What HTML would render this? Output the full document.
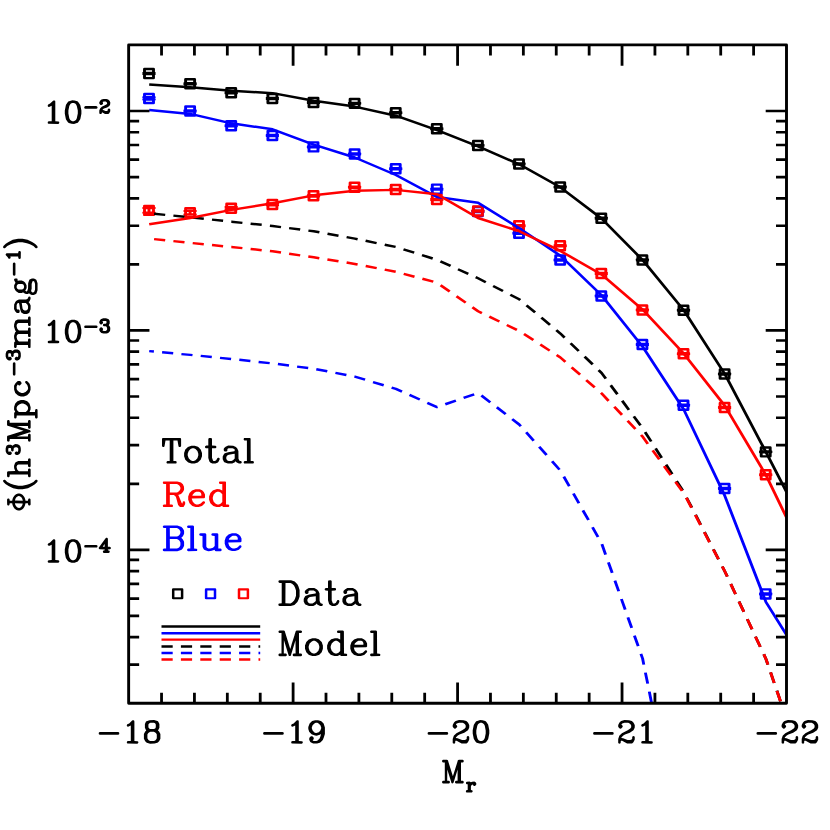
<!DOCTYPE html>
<html><head><meta charset="utf-8"><title>Luminosity function</title>
<style>html,body{margin:0;padding:0;background:#fff}body{width:830px;height:830px;overflow:hidden;font-family:"Liberation Serif",serif}svg{display:block}</style>
</head><body>
<svg width="830" height="830" viewBox="0 0 830 830">
<rect width="830" height="830" fill="#fff"/>
<defs><clipPath id="c"><rect x="128.65" y="44.95" width="657.85" height="658.30"/></clipPath></defs>
<g clip-path="url(#c)"><g transform="scale(1 0.85)" fill="none" stroke-linejoin="round">
<path d="M144.5 81.3L153.5 81.3L153.5 91.9L144.5 91.9ZM143.7 86L154.3 86M143.7 87.2L154.3 87.2M149 86L149 87.2M185.6 93.3L194.6 93.3L194.6 103.9L185.6 103.9ZM184.8 98L195.4 98M184.8 99.2L195.4 99.2M190.1 98L190.1 99.2M226.7 103.9L235.7 103.9L235.7 114.5L226.7 114.5ZM225.9 108.6L236.5 108.6M225.9 109.8L236.5 109.8M231.2 108.6L231.2 109.8M267.9 110.7L276.9 110.7L276.9 121.3L267.9 121.3ZM267.1 115.4L277.7 115.4M267.1 116.6L277.7 116.6M272.4 115.4L272.4 116.6M309 115.3L318 115.3L318 125.9L309 125.9ZM308.2 120L318.8 120M308.2 121.2L318.8 121.2M313.5 120L313.5 121.2M350.1 116.4L359.1 116.4L359.1 126.9L350.1 126.9ZM349.3 121.1L359.9 121.1M349.3 122.2L359.9 122.2M354.6 121.1L354.6 122.2M391.2 127.4L400.2 127.4L400.2 138L391.2 138ZM390.4 132.1L401 132.1M390.4 133.3L401 133.3M395.7 132.1L395.7 133.3M432.3 146.1L441.3 146.1L441.3 156.7L432.3 156.7ZM431.5 150.8L442.1 150.8M431.5 152L442.1 152M436.8 150.8L436.8 152M473.4 165.8L482.4 165.8L482.4 176.4L473.4 176.4ZM472.6 170.5L483.2 170.5M472.6 171.6L483.2 171.6M477.9 170.5L477.9 171.6M514.5 187.6L523.5 187.6L523.5 198.2L514.5 198.2ZM513.7 192.4L524.3 192.4M513.7 193.5L524.3 193.5M519 192.4L519 193.5M555.7 214.7L564.7 214.7L564.7 225.3L555.7 225.3ZM554.9 219.4L565.5 219.4M554.9 220.6L565.5 220.6M560.2 219.4L560.2 220.6M596.8 251.5L605.8 251.5L605.8 262.1L596.8 262.1ZM596 256.2L606.6 256.2M596 257.4L606.6 257.4M601.3 256.2L601.3 257.4M637.9 300.7L646.9 300.7L646.9 311.3L637.9 311.3ZM637.1 305.4L647.7 305.4M637.1 306.6L647.7 306.6M642.4 305.4L642.4 306.6M679 359.6L688 359.6L688 370.2L679 370.2ZM678.2 364.4L688.8 364.4M678.2 365.5L688.8 365.5M683.5 364.4L683.5 365.5M720.1 434.8L729.1 434.8L729.1 445.4L720.1 445.4ZM719.3 439.5L729.9 439.5M719.3 440.7L729.9 440.7M724.6 439.5L724.6 440.7M761.2 526.4L770.2 526.4L770.2 536.9L761.2 536.9ZM760.4 531.1L771 531.1M760.4 532.2L771 532.2M765.7 531.1L765.7 532.2" stroke="#000" stroke-width="2.9" stroke-linecap="round"/>
<path d="M144.5 110.5L153.5 110.5L153.5 121.1L144.5 121.1ZM143.7 114.5L154.3 114.5M143.7 117.1L154.3 117.1M149 114.5L149 117.1M185.6 125.3L194.6 125.3L194.6 135.9L185.6 135.9ZM184.8 129.9L195.4 129.9M184.8 131.3L195.4 131.3M190.1 129.9L190.1 131.3M226.7 142.6L235.7 142.6L235.7 153.2L226.7 153.2ZM225.9 147.3L236.5 147.3M225.9 148.5L236.5 148.5M231.2 147.3L231.2 148.5M267.9 154.1L276.9 154.1L276.9 164.7L267.9 164.7ZM267.1 158.8L277.7 158.8M267.1 160L277.7 160M272.4 158.8L272.4 160M309 167.5L318 167.5L318 178.1L309 178.1ZM308.2 172.2L318.8 172.2M308.2 173.4L318.8 173.4M313.5 172.2L313.5 173.4M350.1 175.9L359.1 175.9L359.1 186.5L350.1 186.5ZM349.3 180.6L359.9 180.6M349.3 181.8L359.9 181.8M354.6 180.6L354.6 181.8M391.2 193.2L400.2 193.2L400.2 203.8L391.2 203.8ZM390.4 197.9L401 197.9M390.4 199.1L401 199.1M395.7 197.9L395.7 199.1M432.3 217.2L441.3 217.2L441.3 227.8L432.3 227.8ZM431.5 221.9L442.1 221.9M431.5 223.1L442.1 223.1M436.8 221.9L436.8 223.1M473.4 243.5L482.4 243.5L482.4 254.1L473.4 254.1ZM472.6 248.2L483.2 248.2M472.6 249.4L483.2 249.4M477.9 248.2L477.9 249.4M514.5 269.2L523.5 269.2L523.5 279.8L514.5 279.8ZM513.7 273.9L524.3 273.9M513.7 275.1L524.3 275.1M519 273.9L519 275.1M555.7 300.5L564.7 300.5L564.7 311.1L555.7 311.1ZM554.9 305.2L565.5 305.2M554.9 306.4L565.5 306.4M560.2 305.2L560.2 306.4M596.8 342.9L605.8 342.9L605.8 353.5L596.8 353.5ZM596 347.6L606.6 347.6M596 348.8L606.6 348.8M601.3 347.6L601.3 348.8M637.9 400L646.9 400L646.9 410.6L637.9 410.6ZM637.1 404.7L647.7 404.7M637.1 405.9L647.7 405.9M642.4 404.7L642.4 405.9M679 471.4L688 471.4L688 482L679 482ZM678.2 476.1L688.8 476.1M678.2 477.3L688.8 477.3M683.5 476.1L683.5 477.3M720.1 569.5L729.1 569.5L729.1 580.1L720.1 580.1ZM719.3 574.2L729.9 574.2M719.3 575.4L729.9 575.4M724.6 574.2L724.6 575.4M761.2 693.4L770.2 693.4L770.2 704L761.2 704ZM760.4 698.1L771 698.1M760.4 699.3L771 699.3M765.7 698.1L765.7 699.3" stroke="#00f" stroke-width="2.9" stroke-linecap="round"/>
<path d="M144.5 242.2L153.5 242.2L153.5 252.8L144.5 252.8ZM143.7 244.8L154.3 244.8M143.7 250.2L154.3 250.2M149 244.8L149 250.2M185.6 244.9L194.6 244.9L194.6 255.5L185.6 255.5ZM184.8 248.1L195.4 248.1M184.8 252.4L195.4 252.4M190.1 248.1L190.1 252.4M226.7 239.6L235.7 239.6L235.7 250.2L226.7 250.2ZM225.9 243.6L236.5 243.6M225.9 246.2L236.5 246.2M231.2 243.6L231.2 246.2M267.9 235.2L276.9 235.2L276.9 245.8L267.9 245.8ZM267.1 239.5L277.7 239.5M267.1 241.4L277.7 241.4M272.4 239.5L272.4 241.4M309 225.1L318 225.1L318 235.6L309 235.6ZM308.2 229.6L318.8 229.6M308.2 231.1L318.8 231.1M313.5 229.6L313.5 231.1M350.1 214.9L359.1 214.9L359.1 225.5L350.1 225.5ZM349.3 219.6L359.9 219.6M349.3 220.8L359.9 220.8M354.6 219.6L354.6 220.8M391.2 217.6L400.2 217.6L400.2 228.2L391.2 228.2ZM390.4 222.4L401 222.4M390.4 223.5L401 223.5M395.7 222.4L395.7 223.5M432.3 229.3L441.3 229.3L441.3 239.9L432.3 239.9ZM431.5 234L442.1 234M431.5 235.2L442.1 235.2M436.8 234L436.8 235.2M473.4 242.9L482.4 242.9L482.4 253.5L473.4 253.5ZM472.6 247.6L483.2 247.6M472.6 248.8L483.2 248.8M477.9 247.6L477.9 248.8M514.5 260.4L523.5 260.4L523.5 270.9L514.5 270.9ZM513.7 265.1L524.3 265.1M513.7 266.2L524.3 266.2M519 265.1L519 266.2M555.7 283.9L564.7 283.9L564.7 294.5L555.7 294.5ZM554.9 288.6L565.5 288.6M554.9 289.8L565.5 289.8M560.2 288.6L560.2 289.8M596.8 316.5L605.8 316.5L605.8 327.1L596.8 327.1ZM596 321.2L606.6 321.2M596 322.4L606.6 322.4M601.3 321.2L601.3 322.4M637.9 359.4L646.9 359.4L646.9 370L637.9 370ZM637.1 364.1L647.7 364.1M637.1 365.3L647.7 365.3M642.4 364.1L642.4 365.3M679 410.9L688 410.9L688 421.5L679 421.5ZM678.2 415.6L688.8 415.6M678.2 416.8L688.8 416.8M683.5 415.6L683.5 416.8M720.1 474.1L729.1 474.1L729.1 484.7L720.1 484.7ZM719.3 478.8L729.9 478.8M719.3 480L729.9 480M724.6 478.8L724.6 480M761.2 553.2L770.2 553.2L770.2 563.8L761.2 563.8ZM760.4 557.9L771 557.9M760.4 559.1L771 559.1M765.7 557.9L765.7 559.1" stroke="#f00" stroke-width="2.9" stroke-linecap="round"/>
<path d="M149.2 99.4L190.3 102.6L231.4 106.8L272.6 109.6L313.7 118.5L354.8 125.4L395.9 136.1L437 153.1L478.1 172.2L519.2 193.3L560.4 220.4L601.5 257.1L642.6 305.9L683.7 364.9L724.8 440L765.9 531.8L807.1 625.6" stroke="#000" stroke-width="2.9"/>
<path d="M154.1 251.5L165.2 252.8M173.4 253.7L184.5 255M192.7 255.9L203.8 257.3M212 258.4L223.1 259.8M231.3 260.8L231.4 260.8L242.4 262.2M250.6 263.2L261.7 264.5M269.9 265.6L272.6 265.9L281 267.2M289.1 268.4L300.2 270.1M308.4 271.3L313.7 272.1L319.4 273.3M327.5 275L338.5 277.3M346.6 279L354.8 280.7L357.6 281.4M365.6 283.3L376.6 286M384.7 287.9L395.6 290.5M403.5 293.4L414.2 297.3M422 300.1L432.7 304.1M440.4 307.4L450.6 312.8M458 316.8L468.3 322.2M475.7 326.1L478.1 327.4L485.8 332M493.1 336.4L503 342.4M510.3 346.8L519.2 352.1L520.2 353M526.5 359.2L535.1 367.6M541.4 373.8L550 382.2M556.3 388.4L560.4 392.4L564.6 397.2M570.6 403.8L578.7 412.9M584.6 419.6L592.7 428.7M598.6 435.4L601.5 438.6L605.8 445.4M610.7 453.2L617.4 463.8M622.2 471.5L628.9 482.1M633.8 489.8L640.5 500.4M645.1 508.4L651.2 519.4M655.6 527.6L661.7 538.6M666.1 546.7L672.2 557.8M676.6 565.9L682.7 577M686.6 585.5L691.8 597.2M695.6 605.7L700.7 617.4M704.5 626L709.6 637.7M713.4 646.3L718.5 658M722.3 666.5L724.8 672.2L727.3 678.3M730.8 687.1L735.5 699M739 707.7L743.8 719.7M747.3 728.4L752 740.3M755.5 749L760.3 761M763.8 769.7L765.9 775.1L767.9 781.9M770.6 791L774.2 803.5M776.9 812.6L780.5 825.1" stroke="#000" stroke-width="2.9"/>
<path d="M149.2 129.5L190.3 134L231.4 145.1L272.6 152.1L313.7 170.2L354.8 185.3L395.9 205.9L437 231.8L478.1 238.6L519.2 268.4L560.4 300.9L601.5 347.4L642.6 407.8L683.7 481.6L724.8 583.3L765.9 708.2L807.1 785.6" stroke="#00f" stroke-width="2.9"/>
<path d="M149.2 413.1L153.9 413.6M162.1 414.5L173.2 415.7M181.4 416.6L190.3 417.5L192.5 417.8M200.7 418.7L211.8 420.1M220 421L231.1 422.3M239.3 423.3L250.4 424.7M258.6 425.8L269.7 427.2M277.9 428.3L289 430M297.1 431.3L308.2 432.9M316.3 434.4L327.3 436.8M335.4 438.7L346.4 441.2M354.4 443L354.8 443.1L365.1 446.7M373 449.5L383.7 453.2M391.6 456L395.9 457.5L402 460.7M409.5 464.6L419.8 470M427.3 473.9L437 478.9L437.5 478.7M445.3 475.6L455.9 471.3M463.6 468.2L474.2 463.9M481.4 465.3L490.3 473.3M496.8 479.1L505.7 487.2M512.2 493L519.2 499.4L520.8 501.4M526.2 508.6L533.7 518.4M539.2 525.6L546.6 535.4M552.1 542.6L559.5 552.5M563.8 560.7L569.3 572.1M573.4 580.5L578.9 592M582.9 600.4L588.5 611.8M592.5 620.2L598 631.7M601.9 640.2L605.6 652.6M608.4 661.7L612.2 674.1M614.9 683.2L618.7 695.6M621.4 704.7L625.2 717.1M627.9 726.2L631.7 738.6M634.4 747.7L638.2 760.1M640.9 769.2L642.6 774.7L643.8 781.9M645.4 791.3L647.7 804.3M649.3 813.7L651.5 826.6" stroke="#00f" stroke-width="2.9"/>
<path d="M149.2 263.8L190.3 256.4L231.4 246.9L272.6 239.2L313.7 229.8L354.8 224.4L395.9 223.4L437 228.6L478.1 256.5L519.2 272L560.4 295.2L601.5 322.9L642.6 364.2L683.7 416L724.8 477.4L765.9 558.8L807.1 658.8" stroke="#f00" stroke-width="2.9"/>
<path d="M154.1 281.3L165.2 282.7M173.4 283.7L184.5 285.1M192.7 286L203.8 287.3M212 288.3L223.1 289.6M231.3 290.6L231.4 290.6L242.4 291.9M250.6 292.9L261.7 294.3M269.9 295.3L272.6 295.6L281 297.1M289.1 298.5L300.2 300.4M308.3 301.8L313.7 302.7L319.3 303.8M327.4 305.3L338.5 307.4M346.6 308.9L354.8 310.5L357.6 311.1M365.7 312.9L376.7 315.4M384.7 317.2L395.7 319.7M403.7 322.2L414.5 325.6M422.4 328L433.3 331.4M440.6 335.5L449.7 343M456.5 348.5L465.7 356M472.4 361.5L478.1 366.2L481.9 368.4M489.3 372.5L499.4 378.2M506.8 382.4L516.9 388.1M524 393L533.4 400.1M540.3 405.4L549.7 412.5M556.6 417.7L560.4 420.6L565.4 425.8M571.6 432.1L580.1 440.8M586.2 447.1L594.7 455.7M600.9 462.1L601.5 462.7L608.6 471.6M614.3 478.6L622 488.1M627.6 495.1L635.4 504.7M641 511.7L642.6 513.6L647.8 522.1M652.7 529.9L659.3 540.5M664.1 548.3L670.7 559M675.5 566.8L682.1 577.4M686.3 585.7L691.5 597.4M695.3 605.9L700.5 617.6M704.3 626.1L709.5 637.8M713.3 646.4L718.5 658M722.3 666.6L724.8 672.2L727.3 678.4M730.8 687.1L735.5 699M739 707.8L743.8 719.7M747.3 728.4L752.1 740.3M755.5 749.1L760.3 761M763.8 769.7L765.9 775.1L767.9 781.9M770.6 791.1L774.2 803.5M776.9 812.7L780.5 825.1" stroke="#f00" stroke-width="2.9"/>
</g></g>
<g transform="scale(1 0.85)" fill="none" stroke-linejoin="round">
<path d="M161.5 737.1L260.2 737.1" stroke="#000" stroke-width="2.9"/>
<path d="M161.5 745L260.2 745" stroke="#00f" stroke-width="2.9"/>
<path d="M161.5 752.5L260.2 752.5" stroke="#f00" stroke-width="2.9"/>
<path d="M161.5 760.5L172.7 760.5M180.9 760.5L192.1 760.5M200.3 760.5L211.5 760.5M219.7 760.5L230.9 760.5M239.1 760.5L250.3 760.5M258.5 760.5L260.2 760.5" stroke="#000" stroke-width="2.9"/>
<path d="M161.5 768.2L172.7 768.2M180.9 768.2L192.1 768.2M200.3 768.2L211.5 768.2M219.7 768.2L230.9 768.2M239.1 768.2L250.3 768.2M258.5 768.2L260.2 768.2" stroke="#00f" stroke-width="2.9"/>
<path d="M161.5 775.8L172.7 775.8M180.9 775.8L192.1 775.8M200.3 775.8L211.5 775.8M219.7 775.8L230.9 775.8M239.1 775.8L250.3 775.8M258.5 775.8L260.2 775.8" stroke="#f00" stroke-width="2.9"/>
<path d="M173.2 693.4L182.1 693.4L182.1 703.8L173.2 703.8Z" stroke="#000" stroke-width="2.5"/>
<path d="M206.1 693.4L215 693.4L215 703.8L206.1 703.8Z" stroke="#00f" stroke-width="2.5"/>
<path d="M239 693.4L247.9 693.4L247.9 703.8L239 703.8Z" stroke="#f00" stroke-width="2.5"/>
</g>
<g transform="scale(1 0.96)" fill="none" stroke-linejoin="round">
<path d="M161.54 46.82L161.54 57.76M161.54 732.55L161.54 721.61M194.43 46.82L194.43 57.76M194.43 732.55L194.43 721.61M227.33 46.82L227.33 57.76M227.33 732.55L227.33 721.61M260.22 46.82L260.22 57.76M260.22 732.55L260.22 721.61M293.11 46.82L293.11 68.49M293.11 732.55L293.11 710.89M326.00 46.82L326.00 57.76M326.00 732.55L326.00 721.61M358.90 46.82L358.90 57.76M358.90 732.55L358.90 721.61M391.79 46.82L391.79 57.76M391.79 732.55L391.79 721.61M424.68 46.82L424.68 57.76M424.68 732.55L424.68 721.61M457.58 46.82L457.58 68.49M457.58 732.55L457.58 710.89M490.47 46.82L490.47 57.76M490.47 732.55L490.47 721.61M523.36 46.82L523.36 57.76M523.36 732.55L523.36 721.61M556.25 46.82L556.25 57.76M556.25 732.55L556.25 721.61M589.15 46.82L589.15 57.76M589.15 732.55L589.15 721.61M622.04 46.82L622.04 68.49M622.04 732.55L622.04 710.89M654.93 46.82L654.93 57.76M654.93 732.55L654.93 721.61M687.82 46.82L687.82 57.76M687.82 732.55L687.82 721.61M720.72 46.82L720.72 57.76M720.72 732.55L720.72 721.61M753.61 46.82L753.61 57.76M753.61 732.55L753.61 721.61M128.65 692.30L139.15 692.30M786.50 692.30L776.00 692.30M128.65 663.74L139.15 663.74M786.50 663.74L776.00 663.74M128.65 641.59L139.15 641.59M786.50 641.59L776.00 641.59M128.65 623.49L139.15 623.49M786.50 623.49L776.00 623.49M128.65 608.19L139.15 608.19M786.50 608.19L776.00 608.19M128.65 594.94L139.15 594.94M786.50 594.94L776.00 594.94M128.65 583.24L139.15 583.24M786.50 583.24L776.00 583.24M128.65 572.78L149.45 572.78M786.50 572.78L765.70 572.78M128.65 503.98L139.15 503.98M786.50 503.98L776.00 503.98M128.65 463.73L139.15 463.73M786.50 463.73L776.00 463.73M128.65 435.17L139.15 435.17M786.50 435.17L776.00 435.17M128.65 413.02L139.15 413.02M786.50 413.02L776.00 413.02M128.65 394.92L139.15 394.92M786.50 394.92L776.00 394.92M128.65 379.61L139.15 379.61M786.50 379.61L776.00 379.61M128.65 366.36L139.15 366.36M786.50 366.36L776.00 366.36M128.65 354.67L139.15 354.67M786.50 354.67L776.00 354.67M128.65 344.21L149.45 344.21M786.50 344.21L765.70 344.21M128.65 275.40L139.15 275.40M786.50 275.40L776.00 275.40M128.65 235.15L139.15 235.15M786.50 235.15L776.00 235.15M128.65 206.59L139.15 206.59M786.50 206.59L776.00 206.59M128.65 184.44L139.15 184.44M786.50 184.44L776.00 184.44M128.65 166.34L139.15 166.34M786.50 166.34L776.00 166.34M128.65 151.04L139.15 151.04M786.50 151.04L776.00 151.04M128.65 137.78L139.15 137.78M786.50 137.78L776.00 137.78M128.65 126.09L139.15 126.09M786.50 126.09L776.00 126.09M128.65 115.63L149.45 115.63M786.50 115.63L765.70 115.63" stroke="#000" stroke-width="2.8"/>
<path d="M128.65 46.82L786.50 46.82L786.50 732.55L128.65 732.55Z" stroke="#000" stroke-width="2.9"/>
</g>
<path d="M98.7 733.4L98.9 734.2L99.2 734.5L100.0 734.7L118.0 734.7L118.8 734.5L119.1 734.2L119.3 733.4L119.1 732.6L118.8 732.3L118.0 732.1L100.0 732.1L99.2 732.3L98.9 732.6ZM149.6 720.2L146.4 721.3L145.9 721.8L144.9 724.0L144.9 727.8L145.9 730.0L146.3 730.4L145.2 731.5L143.9 734.0L143.9 738.8L145.2 741.3L146.2 742.3L146.8 742.7L150.1 743.7L154.6 743.6L157.4 742.7L158.1 742.3L159.3 741.0L160.4 738.8L160.4 734.0L159.1 731.5L157.9 730.4L158.3 730.0L159.4 727.8L159.4 724.0L158.3 721.8L157.9 721.3L157.4 721.1L154.1 720.1ZM150.4 731.7L153.9 731.7L155.2 732.4L156.1 733.3L156.8 734.6L156.8 738.2L156.1 739.5L155.2 740.4L153.9 741.1L150.4 741.1L149.0 740.4L148.1 739.5L147.4 738.2L147.4 734.6L148.1 733.3L149.0 732.4ZM149.1 723.4L150.4 722.7L153.9 722.7L155.1 723.3L155.8 724.6L155.8 727.2L155.2 728.4L153.9 729.1L150.4 729.1L149.1 728.5L148.4 727.2L148.4 724.6ZM133.4 720.2L132.7 720.2L132.1 720.5L129.2 723.4L127.3 724.3L126.8 725.0L126.8 725.4L127.0 726.2L127.3 726.5L128.1 726.7L128.6 726.6L130.8 725.6L130.8 741.0L128.1 741.1L127.3 741.3L127.0 741.6L126.8 742.4L127.0 743.2L127.7 743.6L137.1 743.7L137.8 743.5L138.3 742.8L138.4 742.4L138.1 741.6L137.4 741.2L134.4 741.0L134.4 721.4L134.1 720.6Z" fill="#000" fill-rule="evenodd"/>
<path d="M263.1 733.4L263.3 734.2L263.6 734.5L264.4 734.7L282.4 734.7L283.2 734.5L283.6 734.2L283.8 733.4L283.6 732.6L283.2 732.3L282.4 732.1L264.4 732.1L263.6 732.3L263.3 732.6ZM318.1 720.2L315.1 720.2L312.2 721.1L311.6 721.5L309.6 723.6L308.3 726.9L308.3 728.9L309.2 731.7L309.6 732.3L311.6 734.3L312.1 734.6L315.1 735.6L316.6 735.7L319.8 734.7L321.1 733.9L320.3 736.8L319.6 738.5L317.6 740.4L316.3 741.1L313.8 741.1L312.6 740.4L313.6 739.3L313.8 738.4L313.6 737.5L312.3 736.3L311.9 736.2L311.2 736.2L310.6 736.5L309.6 737.5L309.3 738.0L309.2 739.4L309.3 740.0L310.3 742.0L311.1 742.6L313.2 743.6L317.1 743.6L319.8 742.7L320.6 742.3L322.8 740.0L323.8 737.6L324.9 733.9L324.9 727.4L323.8 724.1L323.6 723.5L321.6 721.5L320.8 721.1ZM317.3 722.7L318.6 723.4L320.4 725.2L321.2 727.6L321.2 728.2L320.4 730.6L318.8 732.3L316.3 733.1L315.8 733.1L314.4 732.4L312.6 730.6L311.8 728.2L311.8 727.6L312.6 725.2L314.4 723.4L315.8 722.7ZM297.8 720.2L297.1 720.2L296.6 720.5L293.6 723.4L291.8 724.3L291.2 725.0L291.2 725.4L291.4 726.2L291.8 726.5L292.6 726.7L293.1 726.6L295.2 725.6L295.2 741.0L292.6 741.1L291.8 741.3L291.4 741.6L291.2 742.4L291.4 743.2L292.1 743.6L301.6 743.7L302.2 743.5L302.8 742.8L302.8 742.4L302.6 741.6L301.8 741.2L298.8 741.0L298.8 721.4L298.6 720.6Z" fill="#000" fill-rule="evenodd"/>
<path d="M427.6 733.4L427.8 734.2L428.1 734.5L428.9 734.7L446.9 734.7L447.7 734.5L448.0 734.2L448.2 733.4L448.0 732.6L447.7 732.3L446.9 732.1L428.9 732.1L428.1 732.3L427.8 732.6ZM480.0 720.1L479.5 720.2L476.3 721.3L475.8 721.8L474.0 724.6L473.7 725.2L472.7 730.2L472.7 733.6L473.7 738.6L474.0 739.2L475.8 742.0L476.7 742.7L479.5 743.6L482.0 743.7L482.5 743.6L485.8 742.5L486.2 742.0L488.1 739.2L488.3 738.6L489.3 733.6L489.3 730.2L488.3 725.2L488.1 724.6L486.2 721.8L485.3 721.1L482.5 720.2ZM480.3 722.7L481.8 722.7L483.1 723.4L484.0 724.3L484.8 725.8L485.7 730.4L485.7 733.4L484.8 738.0L484.0 739.5L483.1 740.4L481.8 741.1L480.3 741.1L478.9 740.4L478.0 739.5L477.3 738.0L476.3 733.4L476.3 730.4L477.3 725.8L478.0 724.3L478.9 723.4ZM455.7 721.1L455.0 721.5L454.0 722.5L452.7 725.0L452.7 726.8L453.0 727.3L454.2 728.5L455.0 728.7L455.7 728.5L456.9 727.3L457.2 726.8L457.2 726.0L456.9 725.5L455.9 724.5L456.0 724.3L456.7 723.5L459.1 722.7L462.7 722.7L464.1 723.4L465.0 724.3L465.7 725.6L465.7 727.2L464.8 728.6L462.2 730.3L456.4 733.2L454.0 735.5L453.7 736.1L452.7 738.9L452.7 742.8L452.9 743.2L453.6 743.6L454.0 743.7L454.7 743.5L455.2 742.8L455.3 741.0L455.5 740.7L456.6 740.7L461.6 743.6L466.3 743.6L466.9 743.3L467.9 742.3L469.2 739.8L469.3 737.4L469.0 736.6L468.7 736.3L468.0 736.1L467.2 736.3L466.7 737.0L466.7 738.8L466.1 739.4L464.7 740.1L462.1 740.1L457.6 738.2L455.9 738.1L455.8 737.9L456.1 737.2L457.8 735.4L459.5 734.6L464.3 732.7L467.6 730.6L468.1 730.0L469.2 727.8L469.3 725.4L469.1 724.8L468.1 722.8L466.9 721.5L466.3 721.1L463.5 720.2L459.0 720.1Z" fill="#000" fill-rule="evenodd"/>
<path d="M593.1 733.4L593.3 734.2L593.6 734.5L594.4 734.7L612.4 734.7L613.2 734.5L613.5 734.2L613.7 733.4L613.5 732.6L613.2 732.3L612.4 732.1L594.4 732.1L593.6 732.3L593.3 732.6ZM647.9 720.2L647.2 720.2L646.6 720.5L643.6 723.4L641.8 724.3L641.3 725.0L641.2 725.4L641.5 726.2L641.8 726.5L642.5 726.7L643.1 726.6L645.2 725.6L645.2 741.0L642.5 741.1L641.8 741.3L641.5 741.6L641.2 742.4L641.5 743.2L642.2 743.6L651.5 743.7L652.3 743.5L652.8 742.8L652.8 742.4L652.6 741.6L651.9 741.2L648.8 741.0L648.8 721.4L648.6 720.6ZM621.2 721.1L620.5 721.5L619.5 722.5L618.2 725.0L618.2 726.8L618.5 727.3L619.7 728.5L620.5 728.7L621.2 728.5L622.4 727.3L622.7 726.8L622.7 726.0L622.4 725.5L621.4 724.5L621.5 724.3L622.2 723.5L624.6 722.7L628.2 722.7L629.6 723.4L630.5 724.3L631.2 725.6L631.2 727.2L630.3 728.6L627.7 730.3L621.9 733.2L619.5 735.5L619.2 736.1L618.2 738.9L618.2 742.8L618.4 743.2L619.1 743.6L619.5 743.7L620.2 743.5L620.7 742.8L620.8 741.0L621.0 740.7L622.1 740.7L627.1 743.6L631.8 743.6L632.4 743.3L633.4 742.3L634.7 739.8L634.8 737.4L634.5 736.6L634.2 736.3L633.5 736.1L632.7 736.3L632.2 737.0L632.2 738.8L631.6 739.4L630.2 740.1L627.6 740.1L623.1 738.2L621.4 738.1L621.3 737.9L621.6 737.2L623.3 735.4L625.0 734.6L629.8 732.7L633.1 730.6L633.6 730.0L634.7 727.8L634.8 725.4L634.6 724.8L633.6 722.8L632.4 721.5L631.8 721.1L629.0 720.2L624.5 720.1Z" fill="#000" fill-rule="evenodd"/>
<path d="M756.5 733.4L756.7 734.2L757.0 734.5L757.8 734.7L775.8 734.7L776.6 734.5L776.9 734.2L777.1 733.4L776.9 732.6L776.6 732.3L775.8 732.1L757.8 732.1L757.0 732.3L756.7 732.6ZM804.6 721.1L804.0 721.5L803.0 722.5L801.7 725.0L801.7 726.8L802.0 727.3L803.2 728.5L803.9 728.7L804.7 728.5L805.9 727.3L806.2 726.8L806.2 726.0L805.9 725.5L804.9 724.5L804.9 724.3L805.7 723.5L808.1 722.7L811.7 722.7L813.0 723.4L813.9 724.3L814.6 725.6L814.6 727.2L813.8 728.6L811.2 730.3L805.4 733.2L803.0 735.5L802.6 736.1L801.7 738.9L801.7 742.8L801.9 743.2L802.6 743.6L802.9 743.7L803.7 743.5L804.2 742.8L804.2 741.0L804.5 740.7L805.6 740.7L810.6 743.6L815.3 743.6L815.9 743.3L816.9 742.3L818.2 739.8L818.2 737.4L818.0 736.6L817.7 736.3L816.9 736.1L816.2 736.3L815.7 737.0L815.6 738.8L815.0 739.4L813.7 740.1L811.1 740.1L806.6 738.2L804.9 738.1L804.8 737.9L805.0 737.2L806.8 735.4L808.4 734.6L813.2 732.7L816.6 730.6L817.1 730.0L818.2 727.8L818.2 725.4L818.1 724.8L817.1 722.8L815.9 721.5L815.2 721.1L812.4 720.2L807.9 720.1ZM784.6 721.1L783.9 721.5L782.9 722.5L781.6 725.0L781.6 726.8L781.9 727.3L783.1 728.5L783.9 728.7L784.6 728.5L785.8 727.3L786.1 726.8L786.1 726.0L785.8 725.5L784.8 724.5L784.9 724.3L785.6 723.5L788.0 722.7L791.6 722.7L793.0 723.4L793.9 724.3L794.6 725.6L794.6 727.2L793.7 728.6L791.1 730.3L785.3 733.2L782.9 735.5L782.6 736.1L781.6 738.9L781.6 742.8L781.8 743.2L782.5 743.6L782.9 743.7L783.6 743.5L784.1 742.8L784.2 741.0L784.4 740.7L785.5 740.7L790.5 743.6L795.2 743.6L795.8 743.3L796.8 742.3L798.1 739.8L798.2 737.4L797.9 736.6L797.6 736.3L796.9 736.1L796.1 736.3L795.6 737.0L795.6 738.8L795.0 739.4L793.6 740.1L791.0 740.1L786.5 738.2L784.8 738.1L784.7 737.9L785.0 737.2L786.7 735.4L788.4 734.6L793.2 732.7L796.5 730.6L797.0 730.0L798.1 727.8L798.2 725.4L798.0 724.8L797.0 722.8L795.8 721.5L795.2 721.1L792.4 720.2L787.9 720.1Z" fill="#000" fill-rule="evenodd"/>
<path d="M72.1 100.3L71.6 100.4L68.3 101.5L67.9 102.0L66.0 104.8L65.8 105.4L64.8 110.4L64.8 113.8L65.8 118.8L66.0 119.4L67.9 122.2L68.8 122.9L71.6 123.8L74.1 123.9L74.6 123.8L77.8 122.7L78.2 122.2L80.1 119.4L80.4 118.8L81.4 113.8L81.4 110.4L80.4 105.4L80.1 104.8L78.2 102.0L77.4 101.3L74.6 100.4ZM72.3 102.9L73.8 102.9L75.2 103.6L76.1 104.5L76.8 106.0L77.8 110.6L77.8 113.6L76.8 118.2L76.1 119.7L75.2 120.6L73.8 121.3L72.3 121.3L70.9 120.6L70.1 119.7L69.3 118.2L68.4 113.6L68.4 110.6L69.3 106.0L70.1 104.5L70.9 103.6ZM54.4 100.4L53.6 100.4L53.1 100.7L50.1 103.6L48.2 104.5L47.8 105.2L47.7 105.6L47.9 106.4L48.2 106.7L49.0 106.9L49.6 106.8L51.7 105.8L51.7 121.2L49.0 121.3L48.2 121.5L47.9 121.8L47.7 122.6L47.9 123.4L48.6 123.8L58.0 123.9L58.8 123.7L59.2 123.0L59.3 122.6L59.1 121.8L58.4 121.4L55.3 121.2L55.3 101.6L55.1 100.8ZM84.2 107.4L84.4 108.2L84.7 108.5L85.5 108.7L96.3 108.7L97.0 108.5L97.3 108.2L97.6 107.4L97.3 106.7L97.0 106.4L96.3 106.1L85.5 106.1L84.7 106.4L84.4 106.7ZM101.5 99.5L100.9 99.9L100.3 100.4L99.3 102.2L99.3 103.6L99.7 104.1L100.4 104.9L101.2 105.1L102.1 104.7L102.9 103.9L103.1 103.2L102.9 102.4L102.5 102.0L103.9 101.5L105.7 101.5L106.4 101.9L106.7 102.2L107.1 102.9L107.1 103.5L106.7 104.2L105.4 105.0L101.8 106.8L100.1 108.4L99.3 110.5L99.3 113.2L99.9 113.9L100.2 114.0L101.0 114.0L101.7 113.6L101.9 113.2L101.9 112.4L102.0 112.3L105.0 114.0L108.2 114.0L108.7 113.7L109.2 113.2L110.2 111.6L110.3 109.8L110.0 109.0L109.7 108.7L109.0 108.5L108.2 108.7L107.7 109.4L107.7 110.4L107.0 110.9L105.5 110.9L102.5 109.7L103.2 109.0L104.0 108.6L107.1 107.4L109.0 106.2L109.5 105.7L110.2 104.2L110.3 102.6L110.2 102.0L109.5 100.7L108.7 99.9L108.1 99.5L106.4 98.9L103.6 98.9Z" fill="#000" fill-rule="evenodd"/>
<path d="M72.1 319.7L71.6 319.8L68.3 320.9L67.9 321.4L66.0 324.2L65.8 324.8L64.8 329.8L64.8 333.2L65.8 338.2L66.0 338.8L67.9 341.6L68.8 342.3L71.6 343.2L74.1 343.3L74.6 343.2L77.8 342.1L78.2 341.6L80.1 338.8L80.4 338.2L81.4 333.2L81.4 329.8L80.4 324.8L80.1 324.2L78.2 321.4L77.4 320.7L74.6 319.8ZM72.3 322.3L73.8 322.3L75.2 323.0L76.1 323.9L76.8 325.4L77.8 330.0L77.8 333.0L76.8 337.6L76.1 339.1L75.2 340.0L73.8 340.7L72.3 340.7L70.9 340.0L70.1 339.1L69.3 337.6L68.4 333.0L68.4 330.0L69.3 325.4L70.1 323.9L70.9 323.0ZM54.4 319.8L53.6 319.8L53.1 320.1L50.1 323.0L48.2 323.9L47.8 324.6L47.7 325.0L47.9 325.8L48.2 326.1L49.0 326.3L49.6 326.2L51.7 325.2L51.7 340.6L49.0 340.7L48.2 340.9L47.9 341.2L47.7 342.0L47.9 342.8L48.6 343.2L58.0 343.3L58.8 343.1L59.2 342.4L59.3 342.0L59.1 341.2L58.4 340.8L55.3 340.6L55.3 321.0L55.1 320.2ZM84.2 326.8L84.4 327.6L84.7 327.9L85.5 328.1L96.3 328.1L97.0 327.9L97.3 327.6L97.6 326.8L97.3 326.1L97.0 325.8L96.3 325.5L85.5 325.5L84.7 325.8L84.4 326.1ZM103.2 318.3L101.3 319.0L100.3 319.8L99.4 321.4L99.3 322.0L99.3 323.0L99.7 323.5L100.4 324.3L100.8 324.4L101.5 324.4L102.1 324.1L102.7 323.5L103.0 323.0L103.0 322.2L102.5 321.4L102.5 321.3L103.9 320.9L105.7 320.9L106.2 321.1L106.5 321.7L106.5 323.0L106.3 323.3L105.7 323.7L103.8 323.8L103.1 324.3L102.9 325.0L103.1 325.8L103.8 326.3L105.7 326.3L106.6 326.8L107.1 328.3L107.1 329.4L106.7 330.2L106.3 330.6L105.7 330.9L103.8 330.9L102.5 330.4L103.0 329.6L103.0 328.8L102.7 328.3L101.9 327.5L101.2 327.3L100.4 327.5L99.5 328.4L99.3 329.2L99.3 330.2L100.1 331.8L101.4 332.9L103.6 333.5L106.5 333.4L108.2 332.9L108.7 332.5L109.5 331.8L110.2 330.2L110.3 328.0L110.2 327.4L109.5 326.1L108.7 325.3L109.7 323.6L109.7 321.0L108.9 319.4L108.1 318.9L106.0 318.3Z" fill="#000" fill-rule="evenodd"/>
<path d="M72.1 539.2L71.6 539.3L68.3 540.4L67.9 540.9L66.0 543.7L65.8 544.3L64.8 549.3L64.8 552.7L65.8 557.7L66.0 558.3L67.9 561.1L68.8 561.8L71.6 562.7L74.1 562.8L74.6 562.7L77.8 561.6L78.2 561.1L80.1 558.3L80.4 557.7L81.4 552.7L81.4 549.3L80.4 544.3L80.1 543.7L78.2 540.9L77.4 540.2L74.6 539.3ZM72.3 541.8L73.8 541.8L75.2 542.5L76.1 543.4L76.8 544.9L77.8 549.5L77.8 552.5L76.8 557.1L76.1 558.6L75.2 559.5L73.8 560.2L72.3 560.2L70.9 559.5L70.1 558.6L69.3 557.1L68.4 552.5L68.4 549.5L69.3 544.9L70.1 543.4L70.9 542.5ZM54.4 539.3L53.6 539.3L53.1 539.6L50.1 542.5L48.2 543.4L47.8 544.1L47.7 544.5L47.9 545.3L48.2 545.6L49.0 545.8L49.6 545.7L51.7 544.7L51.7 560.1L49.0 560.2L48.2 560.4L47.9 560.7L47.7 561.5L47.9 562.3L48.6 562.7L58.0 562.8L58.8 562.6L59.2 561.9L59.3 561.5L59.1 560.7L58.4 560.3L55.3 560.1L55.3 540.5L55.1 539.7ZM84.2 546.3L84.4 547.1L84.7 547.4L85.5 547.6L96.3 547.6L97.0 547.4L97.3 547.1L97.6 546.3L97.3 545.6L97.0 545.3L96.3 545.0L85.5 545.0L84.7 545.3L84.4 545.6ZM107.0 537.8L106.2 537.8L105.4 538.5L98.7 547.7L98.7 548.1L98.9 548.8L99.6 549.3L104.7 549.5L104.7 550.3L103.8 550.5L103.4 550.6L102.9 551.3L102.9 551.7L103.1 552.5L103.8 552.9L108.4 553.0L109.2 552.8L109.7 552.1L109.7 551.3L109.2 550.6L108.8 550.5L107.9 550.3L107.9 549.5L110.0 549.3L110.3 549.1L110.9 548.5L110.9 547.7L110.3 547.0L109.6 546.8L107.9 546.7L107.9 539.1L107.7 538.3ZM104.6 544.1L104.7 546.7L102.7 546.8L102.9 546.4Z" fill="#000" fill-rule="evenodd"/>
<path d="M442.5 760.0L442.1 760.7L442.0 761.1L442.1 761.5L442.5 762.2L443.2 762.4L444.8 762.5L444.8 780.7L443.2 780.8L442.5 781.0L442.1 781.7L442.0 782.1L442.1 782.5L442.5 783.2L443.2 783.4L448.8 783.4L449.5 783.2L449.9 782.5L449.9 781.7L449.5 781.0L448.8 780.8L447.2 780.7L447.3 769.5L451.2 781.9L451.2 782.2L451.5 782.9L451.8 783.2L452.5 783.4L452.8 783.3L453.2 783.1L453.6 782.4L457.6 769.5L457.6 780.7L456.2 780.8L455.5 781.0L455.0 781.7L455.0 782.5L455.5 783.2L456.2 783.4L462.6 783.4L463.3 783.2L463.7 782.5L463.8 782.1L463.7 781.7L463.3 781.0L462.6 780.8L461.0 780.7L461.0 762.5L462.6 762.4L463.3 762.2L463.7 761.5L463.8 761.1L463.7 760.7L463.3 760.0L462.6 759.8L458.9 759.8L458.4 759.9L457.9 760.3L457.6 761.0L457.6 761.3L452.9 776.3L448.2 761.3L448.2 761.0L447.9 760.3L447.4 759.9L446.9 759.8L443.2 759.8ZM466.8 781.7L466.1 782.2L465.9 782.9L466.1 783.7L466.4 784.0L466.8 784.2L467.7 784.3L467.7 789.9L466.8 790.1L466.4 790.2L465.9 790.9L465.9 791.7L466.4 792.4L467.2 792.6L471.8 792.5L472.4 792.1L472.7 791.3L472.4 790.5L472.1 790.2L470.9 789.9L470.9 786.6L471.3 785.4L472.2 784.5L472.5 784.4L472.9 785.1L473.4 785.6L474.0 785.9L474.8 785.9L475.4 785.6L476.1 784.9L476.3 784.1L476.2 783.1L475.6 782.2L475.1 781.9L474.4 781.6L472.2 781.7L470.9 782.3L470.4 781.9L469.6 781.6Z" fill="#000" fill-rule="evenodd"/>
<path d="M224.2 448.1L223.8 448.7L223.7 449.1L223.8 450.5L224.3 451.2L225.0 451.5L226.2 451.5L226.9 451.2L227.4 450.5L227.4 448.9L228.5 448.2L232.5 448.2L234.2 449.1L234.7 449.6L234.7 450.8L234.3 451.2L228.2 452.2L224.8 453.3L224.0 453.9L222.8 456.2L222.7 456.8L222.7 459.0L222.8 459.6L223.9 461.7L224.3 462.2L227.9 463.5L231.7 463.6L232.2 463.5L234.5 462.4L235.7 461.2L236.0 461.8L236.7 462.4L239.0 463.5L240.9 463.5L241.5 463.1L241.8 462.3L241.5 461.5L240.9 461.1L239.9 461.0L239.3 460.4L238.5 458.7L238.4 450.9L237.3 448.5L235.9 447.1L233.2 445.7L228.3 445.6L227.7 445.7L225.6 446.8ZM234.7 453.9L234.7 458.5L233.0 460.2L231.4 461.0L228.6 461.0L227.1 460.2L226.3 458.7L226.3 457.1L227.2 455.5L228.8 454.7L234.4 453.8ZM191.4 445.7L187.9 446.9L185.3 449.4L184.1 453.0L184.1 456.2L185.3 459.7L187.7 462.1L188.3 462.5L191.5 463.5L194.6 463.5L197.8 462.5L198.3 462.1L200.7 459.7L202.0 456.2L202.0 453.0L200.7 449.4L198.3 447.1L197.9 446.7L194.7 445.7ZM192.2 448.2L193.9 448.2L195.5 449.1L197.4 450.9L198.3 453.7L198.3 455.5L197.4 458.2L195.5 460.2L193.9 461.0L192.2 461.0L190.6 460.2L188.7 458.2L187.7 455.5L187.7 453.7L188.7 450.9L190.5 449.1ZM244.5 437.9L244.2 438.1L243.7 438.8L243.6 439.2L243.9 439.9L244.5 440.4L246.9 440.5L246.9 460.9L244.9 461.0L244.2 461.2L243.7 461.9L243.7 462.7L244.2 463.4L244.9 463.6L253.0 463.5L253.3 463.4L253.9 462.7L253.9 462.3L253.7 461.5L253.0 461.1L250.7 460.9L250.6 438.8L250.1 438.1L249.3 437.9ZM209.2 437.9L208.5 438.4L208.3 439.2L208.3 445.5L206.3 445.6L205.5 445.9L205.0 446.5L205.0 447.3L205.2 447.7L205.9 448.2L208.3 448.3L208.3 457.9L209.4 461.5L210.2 462.4L212.3 463.5L212.9 463.6L215.5 463.5L217.9 462.4L218.5 461.7L219.6 459.6L219.7 458.6L219.2 457.9L218.8 457.7L218.0 457.7L217.3 458.2L216.2 460.3L214.9 461.0L213.4 461.0L213.0 460.5L212.0 457.8L212.0 448.3L215.5 448.2L216.2 447.7L216.4 446.9L216.2 446.2L215.5 445.7L212.0 445.5L212.0 438.8L211.8 438.4L211.1 437.9L210.7 437.9L210.2 438.1L209.6 437.9ZM162.5 438.1L162.2 438.4L162.0 439.2L162.0 445.8L162.2 446.5L162.9 447.1L163.3 447.1L164.0 446.9L164.5 446.2L165.5 440.6L165.6 440.5L169.7 440.5L169.7 460.9L167.7 461.0L167.0 461.2L166.5 461.9L166.4 462.3L166.7 463.1L167.0 463.4L167.7 463.6L175.4 463.6L176.2 463.4L176.5 463.1L176.7 462.3L176.5 461.5L176.2 461.2L175.4 461.0L173.4 460.9L173.4 440.5L177.5 440.5L178.5 446.2L179.0 446.9L179.4 447.1L180.2 447.1L180.9 446.5L181.1 445.8L181.1 439.2L180.9 438.4L180.5 438.1L179.8 437.9L163.3 437.9Z" fill="#000" fill-rule="evenodd"/>
<path d="M195.5 489.2L192.0 490.4L189.5 492.9L188.2 496.5L188.2 499.7L189.5 503.2L191.8 505.6L192.4 506.0L195.6 507.0L198.7 507.0L201.9 506.0L202.5 505.6L204.8 503.2L205.1 502.5L204.8 501.7L204.1 501.2L203.4 501.2L202.8 501.6L200.7 503.6L198.1 504.5L196.3 504.5L194.7 503.7L192.8 501.7L191.8 499.0L191.8 498.4L204.1 498.2L204.5 498.0L205.0 497.4L205.0 494.4L203.8 492.0L202.1 490.3L199.7 489.2ZM192.4 495.6L192.8 494.4L194.7 492.6L196.3 491.7L199.1 491.7L200.6 492.5L201.3 494.0L201.3 495.7L192.5 495.7ZM219.9 481.4L219.5 481.6L219.0 482.3L219.0 482.7L219.2 483.4L219.9 483.9L222.3 484.0L222.3 490.4L219.6 489.2L217.0 489.1L213.3 490.2L212.8 490.6L210.4 492.9L209.1 496.5L209.1 499.7L210.4 503.2L212.8 505.6L213.3 506.0L216.5 507.0L219.6 507.0L222.2 505.7L222.5 506.6L223.2 507.0L228.3 507.0L228.7 506.9L229.2 506.2L229.3 505.8L229.0 505.0L228.3 504.6L226.0 504.4L226.0 482.3L225.5 481.6L224.7 481.4ZM217.2 491.7L219.0 491.7L220.6 492.6L222.3 494.2L222.3 501.9L220.5 503.7L218.9 504.5L217.3 504.5L215.7 503.7L213.7 501.7L212.8 499.0L212.8 497.2L213.7 494.4L215.6 492.6ZM163.3 481.6L163.0 481.9L162.8 482.7L163.0 483.4L163.3 483.7L164.1 484.0L166.1 484.0L166.1 504.4L164.1 504.5L163.3 504.7L162.8 505.4L162.8 505.8L163.0 506.6L163.3 506.9L164.1 507.1L171.8 507.1L172.5 506.9L172.8 506.6L173.0 506.2L173.0 505.4L172.5 504.7L171.8 504.5L169.8 504.4L169.8 495.0L173.7 495.0L175.3 495.9L176.1 497.5L178.1 504.9L178.6 505.6L179.7 506.7L180.2 507.0L182.8 507.1L183.5 506.9L184.0 506.3L185.1 504.2L185.2 503.6L185.1 502.1L184.7 501.4L184.3 501.2L183.5 501.2L182.8 501.7L182.7 502.1L182.6 503.0L182.3 503.4L181.7 502.9L178.6 495.5L178.1 494.9L181.0 493.9L181.5 493.6L182.9 492.1L184.0 489.9L184.1 489.3L184.0 486.7L182.9 484.3L181.5 482.9L181.0 482.6L177.3 481.4L164.1 481.4ZM169.8 484.0L177.0 484.0L178.7 484.9L179.5 485.7L180.4 487.4L180.4 489.0L179.6 490.6L178.6 491.6L177.1 492.4L169.9 492.4Z" fill="#f00" fill-rule="evenodd"/>
<path d="M232.0 533.3L228.5 534.5L225.9 537.0L224.7 540.6L224.7 543.8L225.9 547.3L228.3 549.7L228.8 550.1L232.0 551.1L235.1 551.1L238.3 550.1L238.9 549.7L241.3 547.3L241.5 546.6L241.3 545.8L240.6 545.3L239.8 545.3L239.3 545.7L237.1 547.7L234.5 548.6L232.8 548.6L231.1 547.8L229.2 545.8L228.3 543.1L228.3 542.5L240.6 542.3L241.0 542.1L241.5 541.5L241.5 538.5L240.3 536.1L238.6 534.4L236.1 533.3ZM228.8 539.7L229.2 538.5L231.1 536.7L232.7 535.8L235.6 535.8L237.0 536.6L237.8 538.1L237.7 539.8L228.9 539.8ZM199.5 533.8L199.3 534.1L199.3 534.9L199.8 535.6L200.5 535.8L202.5 535.9L202.5 546.6L202.7 547.2L203.7 549.3L204.6 550.1L208.2 551.2L210.9 551.1L214.1 550.1L214.6 549.7L214.9 550.7L215.2 551.0L216.0 551.2L220.3 551.2L221.1 551.0L221.4 550.7L221.6 550.3L221.6 549.5L221.1 548.8L220.3 548.6L218.3 548.5L218.3 534.5L218.1 533.8L217.8 533.5L217.0 533.2L212.7 533.2L211.9 533.5L211.4 534.1L211.4 534.9L211.9 535.6L212.7 535.8L214.7 535.9L214.7 546.0L213.0 547.7L210.3 548.6L208.5 548.6L207.0 547.8L206.3 546.4L206.3 534.5L206.0 533.8L205.7 533.5L205.0 533.2L200.5 533.2L199.8 533.5ZM188.0 525.5L187.6 525.7L187.1 526.4L187.0 526.8L187.3 527.5L188.0 528.0L190.3 528.1L190.3 548.5L188.3 548.6L187.6 548.8L187.1 549.5L187.1 550.3L187.6 551.0L188.3 551.2L196.4 551.1L196.8 551.0L197.3 550.3L197.3 549.9L197.1 549.1L196.4 548.7L194.1 548.5L194.0 526.4L193.5 525.7L192.8 525.5ZM163.3 525.7L163.0 526.0L162.8 526.8L163.0 527.5L163.3 527.8L164.1 528.1L166.1 528.1L166.1 548.5L164.1 548.6L163.3 548.8L162.8 549.5L162.8 549.9L163.0 550.7L163.3 551.0L164.1 551.2L177.3 551.2L181.0 550.1L181.6 549.7L182.9 548.3L184.0 546.1L184.1 545.5L184.1 542.2L184.0 541.5L182.9 539.4L181.3 537.8L182.9 536.2L184.0 534.0L184.1 533.4L184.1 531.2L184.0 530.5L182.9 528.4L181.5 527.0L181.0 526.7L177.3 525.5L164.1 525.5ZM169.8 539.1L177.0 539.1L178.7 540.0L179.5 540.8L180.4 542.5L180.4 545.2L179.5 546.9L178.7 547.8L177.0 548.6L169.9 548.6ZM169.8 528.1L177.0 528.1L178.7 529.0L179.5 529.8L180.4 531.5L180.4 533.1L179.6 534.7L178.6 535.7L177.1 536.5L169.9 536.5Z" fill="#00f" fill-rule="evenodd"/>
<path d="M343.9 590.5L343.5 591.1L343.4 591.5L343.5 592.9L344.0 593.6L344.7 593.9L345.9 593.9L346.6 593.6L347.1 592.9L347.1 591.3L348.3 590.6L352.3 590.6L353.9 591.5L354.4 592.0L354.4 593.2L354.1 593.6L347.9 594.6L344.5 595.7L343.7 596.3L342.5 598.6L342.4 599.2L342.4 601.4L342.5 602.0L343.6 604.1L344.0 604.6L347.6 605.9L351.4 606.0L351.9 605.9L354.2 604.8L355.4 603.6L355.7 604.2L356.4 604.8L358.7 605.9L360.6 605.9L361.3 605.5L361.5 604.7L361.3 603.9L360.6 603.5L359.6 603.4L359.0 602.8L358.2 601.1L358.1 593.3L357.0 590.9L355.6 589.5L352.9 588.1L348.1 588.0L347.4 588.1L345.3 589.2ZM354.4 596.3L354.4 600.9L352.7 602.6L351.1 603.4L348.3 603.4L346.8 602.6L346.1 601.1L346.1 599.5L346.9 597.9L348.5 597.1L354.1 596.2ZM305.3 590.5L304.9 591.1L304.8 591.5L304.9 592.9L305.4 593.6L306.1 593.9L307.3 593.9L308.0 593.6L308.5 592.9L308.5 591.3L309.6 590.6L313.6 590.6L315.3 591.5L315.8 592.0L315.8 593.2L315.4 593.6L309.3 594.6L305.9 595.7L305.1 596.3L303.9 598.6L303.7 599.2L303.7 601.4L303.9 602.0L304.9 604.1L305.4 604.6L309.0 605.9L312.7 606.0L313.3 605.9L315.6 604.8L316.7 603.6L317.1 604.2L317.7 604.8L320.1 605.9L321.9 605.9L322.6 605.5L322.9 604.7L322.6 603.9L321.9 603.5L321.0 603.4L320.4 602.8L319.6 601.1L319.5 593.3L318.4 590.9L317.0 589.5L314.3 588.1L309.4 588.0L308.8 588.1L306.7 589.2ZM315.8 596.3L315.8 600.9L314.1 602.6L312.5 603.4L309.7 603.4L308.2 602.6L307.4 601.1L307.4 599.5L308.3 597.9L309.9 597.1L315.5 596.2ZM328.9 580.3L328.3 580.8L328.0 581.6L328.0 587.9L326.0 588.0L325.3 588.3L324.7 588.9L324.7 589.7L324.9 590.1L325.6 590.6L328.0 590.7L328.0 600.3L329.1 603.9L329.9 604.8L332.0 605.9L332.6 606.0L335.2 605.9L337.6 604.8L338.3 604.1L339.3 602.0L339.4 601.0L338.9 600.3L338.5 600.1L337.7 600.1L337.1 600.6L335.9 602.7L334.6 603.4L333.1 603.4L332.7 602.9L331.7 600.2L331.7 590.7L335.2 590.6L335.9 590.1L336.1 589.3L335.9 588.6L335.2 588.1L331.7 587.9L331.7 581.2L331.5 580.8L330.8 580.3L330.4 580.3L329.9 580.5L329.3 580.3ZM278.9 580.5L278.6 580.8L278.4 581.6L278.6 582.3L278.9 582.6L279.7 582.9L281.7 582.9L281.7 603.3L279.7 603.4L278.9 603.6L278.4 604.3L278.4 604.7L278.6 605.5L278.9 605.8L279.7 606.0L290.7 606.0L294.4 604.9L294.9 604.5L297.4 602.0L298.6 599.6L299.6 596.5L299.6 589.9L298.5 586.5L297.4 584.3L294.7 581.6L291.1 580.3L279.7 580.3ZM285.5 582.9L290.4 582.9L292.1 583.8L294.0 585.6L295.1 587.8L296.0 590.6L296.0 595.8L295.0 598.7L294.1 600.6L292.1 602.6L290.4 603.4L285.4 603.3Z" fill="#000" fill-rule="evenodd"/>
<path d="M357.6 638.3L354.1 639.5L351.5 642.0L350.3 645.6L350.3 648.8L351.5 652.3L353.9 654.7L354.5 655.1L357.7 656.1L360.8 656.1L364.0 655.1L364.5 654.7L366.9 652.3L367.2 651.6L366.9 650.8L366.2 650.3L365.5 650.3L364.9 650.7L362.8 652.7L360.2 653.6L358.4 653.6L356.8 652.8L354.8 650.8L353.9 648.1L353.9 647.5L366.2 647.3L366.6 647.1L367.1 646.5L367.1 643.5L365.9 641.1L364.2 639.4L361.8 638.3ZM354.5 644.7L354.8 643.5L356.7 641.7L358.4 640.8L361.2 640.8L362.7 641.6L363.4 643.1L363.4 644.8L354.5 644.8ZM312.4 638.3L308.8 639.5L306.3 642.0L305.0 645.6L305.0 648.8L306.3 652.3L308.7 654.7L309.2 655.1L312.4 656.1L315.5 656.1L318.7 655.1L319.3 654.7L321.7 652.3L322.9 648.8L322.9 645.6L321.7 642.0L319.3 639.7L318.8 639.3L315.6 638.3ZM313.1 640.8L314.8 640.8L316.5 641.7L318.4 643.5L319.3 646.3L319.3 648.1L318.4 650.8L316.4 652.8L314.8 653.6L313.2 653.6L311.5 652.8L309.6 650.8L308.7 648.1L308.7 646.3L309.6 643.5L311.5 641.7ZM371.0 630.5L370.6 630.7L370.1 631.4L370.0 631.8L370.3 632.5L371.0 633.0L373.4 633.1L373.4 653.5L371.4 653.6L370.6 653.8L370.1 654.5L370.1 655.3L370.6 656.0L371.4 656.2L379.4 656.1L379.8 656.0L380.3 655.3L380.4 654.9L380.1 654.1L379.4 653.7L377.1 653.5L377.0 631.4L376.5 630.7L375.8 630.5ZM337.8 630.5L337.5 630.7L337.0 631.4L336.9 631.8L337.2 632.5L337.8 633.0L340.2 633.1L340.2 639.5L337.5 638.3L334.9 638.2L331.2 639.3L330.7 639.7L328.4 642.0L327.1 645.6L327.1 648.8L328.4 652.3L330.7 654.7L331.3 655.1L334.5 656.1L337.5 656.1L340.2 654.8L340.5 655.7L341.2 656.1L346.3 656.1L346.7 656.0L347.2 655.3L347.2 654.9L347.0 654.1L346.3 653.7L344.0 653.5L343.9 631.4L343.4 630.7L342.7 630.5ZM335.2 640.8L336.9 640.8L338.5 641.7L340.2 643.3L340.2 651.0L338.5 652.8L336.8 653.6L335.2 653.6L333.6 652.8L331.7 650.8L330.7 648.1L330.7 646.3L331.7 643.5L333.5 641.7ZM278.9 630.7L278.5 631.4L278.4 631.8L278.5 632.1L278.9 632.8L279.6 633.1L281.5 633.1L281.5 653.5L279.6 653.6L278.9 653.8L278.5 654.5L278.4 654.9L278.7 655.8L279.6 656.2L285.7 656.2L286.4 656.0L286.8 655.3L286.8 654.5L286.4 653.8L285.7 653.6L283.8 653.5L283.9 640.1L288.6 655.3L288.8 655.8L289.4 656.1L290.1 656.1L290.4 656.0L291.0 655.2L291.0 654.9L295.5 640.2L295.6 653.5L293.8 653.6L293.2 653.8L292.7 654.5L292.7 655.3L293.2 656.0L293.8 656.2L300.9 656.2L301.6 656.0L302.0 655.3L302.1 654.9L302.0 654.5L301.6 653.8L300.9 653.6L299.0 653.5L299.0 633.1L300.9 633.1L301.6 632.8L302.0 632.1L302.1 631.8L301.8 630.9L300.9 630.5L296.8 630.5L296.1 630.7L295.8 631.0L294.6 634.8L294.6 635.1L291.7 644.1L291.0 646.7L290.4 648.8L290.2 648.8L284.7 631.0L284.4 630.7L283.7 630.5L279.6 630.5Z" fill="#000" fill-rule="evenodd"/>
<path transform="translate(29.35 510.5) rotate(-90)" d="M33.7 -22.1L33.3 -21.4L33.2 -21.0L33.3 -20.6L33.7 -19.9L34.4 -19.7L35.9 -19.6L35.9 -1.4L34.4 -1.3L33.7 -1.1L33.3 -0.4L33.2 0.0L33.4 0.8L33.7 1.1L34.4 1.3L40.9 1.3L41.6 1.1L42.0 0.4L42.1 0.0L42.0 -0.4L41.6 -1.1L40.9 -1.3L39.3 -1.4L39.3 -10.4L40.6 -11.9L42.9 -12.7L44.3 -12.7L45.5 -12.0L46.1 -10.8L46.1 -1.4L44.5 -1.3L43.8 -1.1L43.4 -0.4L43.3 0.0L43.6 0.8L43.8 1.1L44.5 1.3L50.9 1.3L51.7 1.1L52.1 0.4L52.2 0.0L52.1 -0.4L51.7 -1.1L50.9 -1.3L49.4 -1.4L49.4 -11.0L48.8 -12.7L48.1 -14.0L47.3 -14.4L45.0 -15.2L44.5 -15.3L42.3 -15.2L39.4 -14.1L39.3 -21.0L39.1 -21.8L38.7 -22.1L38.1 -22.3L34.4 -22.3ZM5.9 -22.2L5.3 -21.8L5.1 -21.4L5.1 -20.6L5.3 -20.2L5.9 -19.8L7.2 -19.6L7.2 -17.2L7.1 -17.1L6.3 -17.0L5.0 -16.6L3.5 -15.9L2.3 -15.1L1.3 -14.1L0.9 -13.4L0.8 -13.4L0.3 -12.2L0.0 -11.1L0.1 -9.6L0.3 -8.8L0.8 -7.6L0.9 -7.6L1.3 -6.9L2.3 -5.9L3.5 -5.1L4.7 -4.5L7.2 -3.8L7.2 -1.4L5.9 -1.2L5.6 -1.1L5.1 -0.4L5.1 0.4L5.6 1.1L6.3 1.3L11.1 1.2L11.7 0.8L11.9 0.4L11.9 -0.4L11.7 -0.8L11.1 -1.2L9.8 -1.4L9.8 -3.8L9.9 -3.9L11.4 -4.2L13.2 -4.9L14.6 -5.8L15.7 -6.9L16.1 -7.6L16.2 -7.6L16.7 -8.8L17.0 -9.9L16.9 -11.4L16.6 -12.6L16.2 -13.4L16.1 -13.4L15.7 -14.1L14.6 -15.2L12.9 -16.2L11.4 -16.8L9.9 -17.1L9.8 -17.2L9.8 -19.6L11.1 -19.8L11.4 -19.9L11.9 -20.6L11.9 -21.4L11.4 -22.1L10.7 -22.3ZM9.9 -14.4L11.5 -14.0L12.9 -13.2L13.6 -12.6L14.0 -11.9L14.4 -10.8L14.4 -10.1L14.1 -9.3L13.7 -8.7L12.9 -7.8L11.5 -7.0L10.1 -6.6L9.8 -6.6ZM6.9 -14.4L7.2 -14.4L7.1 -6.6L5.5 -7.0L4.1 -7.8L3.1 -8.9L2.6 -10.1L2.7 -11.4L3.4 -12.6L4.9 -13.7L5.8 -14.1ZM29.5 -26.3L28.6 -25.9L26.6 -23.9L24.4 -20.8L22.2 -16.2L21.2 -11.2L21.2 -6.8L22.3 -1.4L24.4 2.8L26.3 5.6L28.6 7.9L29.5 8.3L30.3 8.1L30.6 7.8L30.7 7.4L30.7 6.6L30.4 6.1L28.5 4.1L26.7 0.6L25.7 -2.4L24.8 -7.0L24.8 -11.0L25.7 -15.6L26.7 -18.6L28.5 -22.1L30.4 -24.1L30.7 -24.6L30.8 -25.0L30.6 -25.8L30.3 -26.1ZM59.3 -23.7L57.5 -23.0L56.4 -22.2L55.5 -20.6L55.4 -20.0L55.5 -19.0L55.8 -18.5L56.5 -17.7L56.9 -17.6L57.7 -17.6L58.2 -17.9L58.8 -18.5L59.1 -19.0L59.1 -19.8L58.6 -20.6L58.7 -20.7L60.0 -21.1L61.8 -21.1L62.3 -20.9L62.6 -20.3L62.6 -19.0L62.4 -18.7L61.8 -18.3L59.9 -18.2L59.2 -17.7L59.0 -17.0L59.2 -16.2L59.9 -15.7L61.8 -15.7L62.7 -15.2L63.2 -13.7L63.2 -12.6L62.8 -11.8L62.5 -11.4L61.8 -11.1L59.9 -11.1L58.6 -11.6L59.1 -12.4L59.1 -13.2L58.8 -13.7L58.0 -14.5L57.3 -14.7L56.5 -14.5L55.7 -13.6L55.4 -12.8L55.5 -11.8L56.2 -10.2L57.5 -9.1L59.7 -8.5L62.6 -8.6L64.3 -9.1L64.8 -9.5L65.6 -10.2L66.3 -11.8L66.4 -14.0L66.3 -14.6L65.6 -15.9L64.8 -16.7L65.8 -18.4L65.8 -21.0L65.0 -22.6L64.2 -23.1L62.1 -23.7ZM120.8 -15.2L117.6 -14.1L115.4 -11.9L115.0 -11.3L114.1 -8.5L114.1 -5.5L115.3 -2.2L117.4 -0.1L118.0 0.3L120.8 1.2L123.8 1.2L126.6 0.3L127.3 -0.1L129.3 -2.1L129.6 -2.6L129.6 -3.4L129.1 -4.1L128.3 -4.3L127.4 -3.9L125.6 -2.1L123.1 -1.3L121.6 -1.3L120.2 -2.0L118.4 -3.8L117.6 -6.2L117.6 -7.8L118.4 -10.2L120.2 -12.0L121.6 -12.7L124.1 -12.7L125.4 -12.0L126.0 -11.5L125.4 -10.9L125.1 -10.4L125.1 -9.6L125.4 -9.1L126.4 -8.1L127.3 -7.7L128.3 -8.1L129.4 -9.2L129.6 -10.0L129.6 -11.4L129.3 -11.9L127.3 -13.9L124.9 -15.2L124.3 -15.3ZM92.9 -15.2L92.5 -15.1L92.0 -14.4L92.0 -14.0L92.2 -13.2L92.9 -12.8L95.0 -12.6L95.0 5.6L93.3 5.7L92.5 5.9L92.0 6.6L92.0 7.4L92.5 8.1L93.3 8.3L100.6 8.2L101.0 8.1L101.5 7.4L101.6 7.0L101.3 6.2L100.6 5.8L98.6 5.6L98.6 0.2L100.9 1.2L103.3 1.3L106.6 0.3L107.2 -0.1L109.2 -2.1L109.6 -2.7L110.5 -5.5L110.5 -8.5L109.6 -11.3L109.2 -11.9L107.2 -13.9L106.6 -14.3L103.8 -15.2L101.3 -15.3L100.7 -15.2L98.6 -14.1L98.3 -14.8L97.6 -15.2ZM101.5 -12.7L103.0 -12.7L104.4 -12.0L106.1 -10.2L107.0 -7.8L107.0 -6.2L106.1 -3.8L104.4 -2.0L103.0 -1.3L101.5 -1.3L100.1 -2.0L98.6 -3.6L98.6 -10.4L100.1 -12.0ZM69.3 -22.1L68.9 -21.4L68.8 -21.0L68.9 -20.6L69.3 -19.9L70.0 -19.7L71.6 -19.6L71.6 -1.4L70.0 -1.3L69.3 -1.1L68.9 -0.4L68.8 0.0L68.9 0.4L69.3 1.1L70.0 1.3L75.6 1.3L76.3 1.1L76.7 0.4L76.7 -0.4L76.3 -1.1L75.6 -1.3L74.0 -1.4L74.1 -12.6L78.0 -0.2L78.0 0.1L78.3 0.8L78.6 1.1L79.3 1.3L79.6 1.2L80.0 1.0L80.4 0.3L84.4 -12.6L84.4 -1.4L83.0 -1.3L82.3 -1.1L81.8 -0.4L81.8 0.4L82.3 1.1L83.0 1.3L89.4 1.3L90.1 1.1L90.5 0.4L90.6 0.0L90.5 -0.4L90.1 -1.1L89.4 -1.3L87.8 -1.4L87.8 -19.6L89.4 -19.7L90.1 -19.9L90.5 -20.6L90.6 -21.0L90.5 -21.4L90.1 -22.1L89.4 -22.3L85.7 -22.3L85.2 -22.2L84.7 -21.8L84.4 -21.1L84.4 -20.8L79.7 -5.8L75.0 -20.8L75.0 -21.1L74.7 -21.8L74.2 -22.2L73.7 -22.3L70.0 -22.3ZM134.9 -15.2L135.1 -14.4L135.4 -14.1L136.2 -13.9L147.0 -13.9L147.7 -14.1L148.0 -14.4L148.3 -15.2L148.0 -15.9L147.7 -16.2L147.0 -16.5L136.2 -16.5L135.4 -16.2L135.1 -15.9ZM153.9 -23.7L152.0 -23.0L151.0 -22.2L150.1 -20.6L150.0 -20.0L150.0 -19.0L150.4 -18.5L151.1 -17.7L151.5 -17.6L152.2 -17.6L152.8 -17.9L153.4 -18.5L153.7 -19.0L153.7 -19.8L153.2 -20.6L153.2 -20.7L154.6 -21.1L156.4 -21.1L156.9 -20.9L157.2 -20.3L157.2 -19.0L157.0 -18.7L156.4 -18.3L154.5 -18.2L153.8 -17.7L153.6 -17.0L153.8 -16.2L154.5 -15.7L156.4 -15.7L157.3 -15.2L157.8 -13.7L157.8 -12.6L157.4 -11.8L157.0 -11.4L156.4 -11.1L154.5 -11.1L153.2 -11.6L153.7 -12.4L153.7 -13.2L153.4 -13.7L152.6 -14.5L151.9 -14.7L151.1 -14.5L150.2 -13.6L150.0 -12.8L150.0 -11.8L150.8 -10.2L152.1 -9.1L154.3 -8.5L157.2 -8.6L158.9 -9.1L159.4 -9.5L160.2 -10.2L160.9 -11.8L161.0 -14.0L160.9 -14.6L160.2 -15.9L159.4 -16.7L160.4 -18.4L160.4 -21.0L159.6 -22.6L158.8 -23.1L156.7 -23.7ZM222.5 -15.2L219.9 -13.9L218.9 -12.9L217.6 -10.6L217.5 -10.0L217.5 -8.0L217.6 -7.4L218.2 -6.2L217.6 -5.6L216.6 -3.4L216.6 -1.6L217.3 -0.2L216.6 0.4L215.6 2.4L215.5 3.0L215.6 4.4L216.6 6.6L217.1 7.1L220.3 8.2L227.3 8.2L230.6 7.1L231.0 6.6L232.0 4.6L232.1 4.0L232.1 2.6L230.9 0.2L230.1 -0.3L227.3 -1.2L222.0 -1.3L219.6 -2.1L219.1 -2.6L219.1 -2.8L219.8 -4.1L222.3 -2.8L222.8 -2.7L225.2 -2.8L227.8 -4.1L229.0 -5.4L230.1 -7.6L230.1 -10.0L230.0 -10.6L229.5 -11.6L231.2 -11.8L231.9 -12.2L232.1 -13.0L232.1 -14.4L231.6 -15.1L230.8 -15.3L230.3 -15.2L227.8 -13.9L225.2 -15.2ZM218.1 3.2L218.8 2.1L219.9 1.8L221.8 2.3L226.6 2.3L229.1 3.1L229.5 3.6L229.5 3.8L228.9 4.9L226.6 5.7L221.0 5.7L218.8 4.9L218.1 3.8ZM223.1 -12.7L224.6 -12.7L225.8 -12.1L226.5 -10.8L226.5 -7.2L225.9 -6.0L224.6 -5.3L223.1 -5.3L221.8 -5.9L221.1 -7.2L221.1 -10.8L221.8 -12.0ZM197.8 -12.9L197.5 -12.0L197.5 -10.6L198.0 -9.9L198.8 -9.7L199.8 -9.7L200.5 -9.9L201.0 -10.6L201.0 -12.1L202.0 -12.7L205.5 -12.7L206.9 -12.0L207.5 -11.4L207.5 -10.6L207.1 -10.2L201.3 -9.2L198.5 -8.3L197.7 -7.8L196.5 -5.4L196.5 -3.0L196.6 -2.4L197.6 -0.4L198.0 0.1L201.3 1.2L204.8 1.3L205.3 1.2L207.3 0.2L208.4 -0.8L209.0 0.1L211.4 1.2L213.1 1.2L213.8 0.8L214.1 0.0L213.8 -0.8L213.1 -1.2L212.3 -1.3L211.8 -1.9L211.1 -3.2L211.0 -10.4L209.9 -12.6L208.7 -13.9L206.1 -15.2L201.8 -15.3L201.2 -15.2L199.2 -14.2ZM207.5 -7.6L207.5 -3.6L205.9 -2.0L204.5 -1.3L202.0 -1.3L200.7 -2.0L200.1 -3.2L200.1 -4.8L200.8 -6.1L202.1 -6.8ZM162.5 -14.4L162.5 -13.6L162.9 -12.9L163.7 -12.7L165.4 -12.6L165.4 -1.4L163.3 -1.2L162.6 -0.8L162.5 -0.4L162.5 0.4L162.6 0.8L163.3 1.2L170.7 1.3L171.5 1.1L171.8 0.8L171.9 0.4L171.9 -0.4L171.5 -1.1L170.7 -1.3L169.0 -1.4L169.0 -10.4L170.5 -11.9L172.9 -12.7L174.5 -12.7L175.7 -12.1L176.4 -10.8L176.4 -1.4L174.7 -1.3L173.9 -1.1L173.6 -0.8L173.4 0.0L173.6 0.8L173.9 1.1L174.7 1.3L181.7 1.3L182.5 1.1L182.8 0.8L182.9 0.4L182.9 -0.4L182.5 -1.1L181.7 -1.3L180.0 -1.4L180.0 -10.4L181.5 -11.9L183.9 -12.7L185.5 -12.7L186.7 -12.1L187.4 -10.8L187.4 -1.4L185.7 -1.3L184.9 -1.1L184.5 -0.4L184.4 0.0L184.6 0.8L184.9 1.1L185.7 1.3L192.7 1.3L193.5 1.1L193.9 0.4L193.9 -0.4L193.5 -1.1L192.7 -1.3L191.0 -1.4L191.0 -11.0L190.9 -11.6L189.9 -13.6L189.5 -14.1L189.0 -14.3L186.2 -15.2L183.7 -15.3L180.4 -14.3L179.8 -13.9L179.1 -13.2L178.8 -13.8L178.0 -14.3L174.7 -15.3L172.2 -15.2L169.4 -14.3L169.0 -14.1L168.8 -14.8L168.1 -15.2L163.7 -15.3L162.9 -15.1ZM234.7 -15.2L234.9 -14.4L235.2 -14.1L236.0 -13.9L246.8 -13.9L247.5 -14.1L247.8 -14.4L248.1 -15.2L247.8 -15.9L247.5 -16.2L246.8 -16.5L236.0 -16.5L235.2 -16.2L234.9 -15.9ZM256.3 -23.7L255.9 -23.7L255.2 -23.5L253.2 -21.6L252.3 -21.2L251.7 -20.4L251.7 -19.6L252.2 -18.9L252.9 -18.7L254.0 -19.0L254.0 -11.2L252.5 -11.0L252.2 -10.9L251.8 -10.6L251.6 -9.8L251.8 -9.0L252.5 -8.6L258.3 -8.5L259.0 -8.7L259.5 -9.4L259.5 -10.2L259.0 -10.9L258.7 -11.0L257.2 -11.2L257.2 -22.4L257.0 -23.2ZM263.5 -26.3L262.7 -26.1L262.4 -25.8L262.3 -25.4L262.3 -24.6L262.6 -24.1L264.5 -22.1L266.3 -18.6L267.3 -15.6L268.2 -11.0L268.2 -7.0L267.3 -2.4L266.3 0.6L264.5 4.1L262.6 6.1L262.3 6.6L262.2 7.0L262.4 7.8L262.7 8.1L263.5 8.3L264.4 7.9L266.4 5.9L268.6 2.8L270.8 -1.8L271.8 -6.8L271.8 -11.2L270.7 -16.6L268.6 -20.8L266.7 -23.6L264.4 -25.9Z" fill="#000" fill-rule="evenodd"/>
</svg>
</body></html>
